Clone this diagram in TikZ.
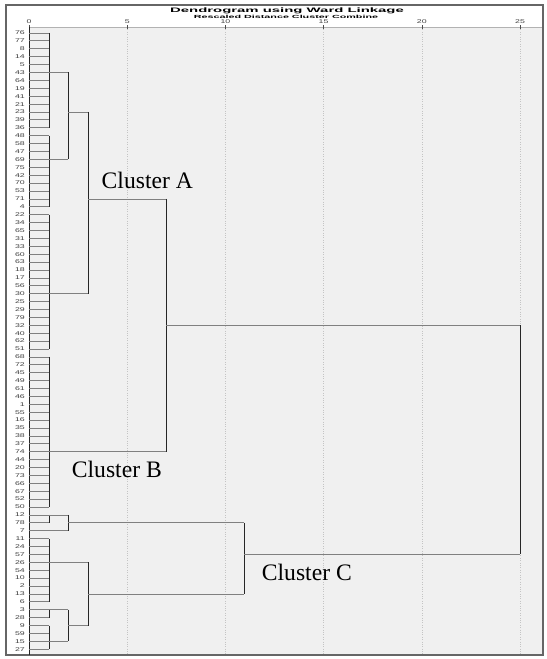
\documentclass[tikz,border=0pt]{standalone}
\usepackage{fontspec}
\setmainfont{Liberation Serif}
\newfontfamily\spssfont{Liberation Sans}
\usetikzlibrary{positioning}
\definecolor{plotgrey}{HTML}{F0F0F0}
\definecolor{gridgrey}{HTML}{C4C4C4}
\tikzset{
  leaf/.style={anchor=east, inner sep=0pt, text=black!75, font=\spssfont\fontsize{5.5}{6}\selectfont},
  tick/.style={inner sep=0pt, text=black!75, font=\spssfont\fontsize{5.5}{6}\selectfont},
  hline/.style={draw=black!50, line width=0.8bp},
  vline/.style={draw=black!85, line width=0.8bp},
  cluster/.style={anchor=base west, inner sep=0pt, font=\fontsize{23.7}{28}\selectfont},
}
\newcommand{\wide}[2]{\scalebox{#1}[1]{#2}}
\begin{document}
\begin{tikzpicture}[x=1bp, y=-1bp]
	% Canvas, frame and plot area
	\useasboundingbox (0,0) rectangle (547,659);
	\fill[white] (0,0) rectangle (547,659);
	\fill[plotgrey] (29,27) rectangle (543,655);
	\draw[black!30] (29,27) -- (543,27);
	\draw[black!60, line width=1.2bp] (6,5) rectangle (543,655);
	
	% Titles
	\node[inner sep=0pt] (title) at (287,11.3)
	{\wide{2.3}{\spssfont\bfseries\fontsize{6.5}{7}\selectfont Dendrogram using Ward Linkage}};
	\node[inner sep=0pt] (subtitle) at (286,16.4)
	{\wide{2.4}{\spssfont\bfseries\fontsize{4.5}{5}\selectfont Rescaled Distance Cluster Combine}};
	
	% Grid and scale
	\foreach \d in {5,10,...,25} {
		\draw[gridgrey, dotted] ({29+19.64*\d},27) -- ({29+19.64*\d},655);
	}
	\foreach \d in {0,5,...,25} {
		\draw[black!70] ({29+19.64*\d},25.5) -- ({29+19.64*\d},29);
		\node[tick] (t\d) at ({29+19.64*\d},22) {\wide{1.6}{\d}};
	}
	\draw[vline] (29,27) -- (29,655);
	
	% Column positions of the merges
	\coordinate (c1) at (68,0);
	\coordinate (c2) at (88,0);
	\coordinate (c3) at (166,0);
	\coordinate (c4) at (244,0);
	\coordinate (c5) at (520,0);
	
	% Leaves
	\foreach \lab [count=\i] in {76,77,8,14,5,43,64,19,41,21,23,39,36,48,58,47,69,75,42,70,
		53,71,4,22,34,65,31,33,60,63,18,17,56,30,25,29,79,32,40,62,51,68,72,45,49,61,46,1,55,16,
		35,38,37,74,44,20,73,66,67,52,50,12,78,7,11,24,57,26,54,10,2,13,6,3,28,9,59,15,27} {
		\node[leaf] (n\i) at (25,{33+(\i-1)*7.9}) {\wide{1.6}{\lab}};
		\coordinate (a\i) at (29,{33+(\i-1)*7.9});
		\coordinate (b\i) at (49,{33+(\i-1)*7.9});
		\draw[hline] (a\i) -- (b\i);
	}
	
	% Cluster A
	\draw[vline] (b1) -- (b13);
	\draw[vline] (b14) -- (b23);
	\draw[vline] (b24) -- (b41);
	\draw[hline] (b6) -- (b6 -| c1);
	\draw[hline] (b17) -- (b17 -| c1);
	\draw[vline] (b6 -| c1) -- (b17 -| c1);
	\draw[hline] (b11 -| c1) -- (b11 -| c2);
	\draw[hline] (b34) -- (b34 -| c2);
	\draw[vline] (b11 -| c2) -- (b34 -| c2);
	\draw[hline] (b22 -| c2) -- (b22 -| c3);
	
	% Cluster B
	\draw[vline] (b42) -- (b61);
	\draw[hline] (b54) -- (b54 -| c3);
	\draw[vline] (b22 -| c3) -- (b54 -| c3);
	\draw[hline] (b38 -| c3) -- (b38 -| c5);
	
	% Cluster C
	\draw[vline] (b62) -- (b63);
	\draw[hline] (b62) -- (b62 -| c1);
	\draw[hline] (b64) -- (b64 -| c1);
	\draw[vline] (b62 -| c1) -- (b64 -| c1);
	\draw[hline] (b63 -| c1) -- (b63 -| c4);
	\draw[vline] (b65) -- (b73);
	\draw[hline] (b68) -- (b68 -| c2);
	\draw[vline] (b74) -- (b75);
	\draw[vline] (b76) -- (b79);
	\draw[hline] (b74) -- (b74 -| c1);
	\draw[hline] (b78) -- (b78 -| c1);
	\draw[vline] (b74 -| c1) -- (b78 -| c1);
	\draw[hline] (b76 -| c1) -- (b76 -| c2);
	\draw[vline] (b68 -| c2) -- (b76 -| c2);
	\draw[hline] (b72 -| c2) -- (b72 -| c4);
	\draw[vline] (b63 -| c4) -- (b72 -| c4);
	\draw[hline] (b67 -| c4) -- (b67 -| c5);
	\draw[vline] (b38 -| c5) -- (b67 -| c5);
	
	% Cluster labels
	\node[cluster] (clA) at (101.5,188.3) {Cluster A};
	\node[cluster] (clB) at (71.7,477) {Cluster B};
	\node[cluster] (clC) at (261.7,580.5) {Cluster C};
	
\end{tikzpicture}
\end{document}
